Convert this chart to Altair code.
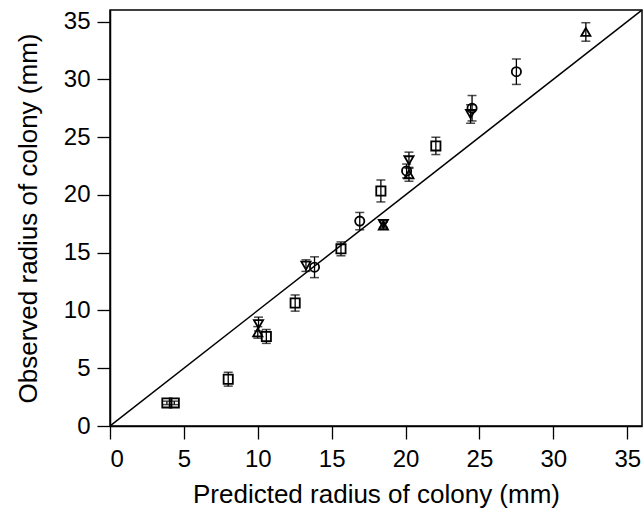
import altair as alt
import pandas as pd

# Predicted (x), observed (y), error half-width, marker shape
circle_x = [27.5, 24.5, 20.07, 16.9, 13.84]
circle_y = [30.66, 27.5, 22.07, 17.73, 13.74]
circle_e = [1.1, 1.1, 0.6, 0.75, 0.9]

square_x = [22.05, 18.33, 15.63, 12.53, 10.58, 8.0, 3.85, 4.35]
square_y = [24.24, 20.34, 15.33, 10.64, 7.75, 4.05, 2.0, 2.0]
square_e = [0.75, 0.95, 0.6, 0.7, 0.6, 0.6, 0.15, 0.15]

tri_up_x = [32.2, 20.23, 18.5, 10.0]
tri_up_y = [34.1, 21.78, 17.35, 8.1]
tri_up_e = [0.8, 0.6, 0.3, 0.5]

tri_down_x = [24.4, 20.23, 18.5, 13.26, 10.05]
tri_down_y = [27.0, 23.0, 17.5, 13.88, 8.82]
tri_down_e = [0.8, 0.7, 0.3, 0.5, 0.6]

x_ticks = [0, 5, 10, 15, 20, 25, 30, 35]
y_ticks = [0, 5, 10, 15, 20, 25, 30, 35]
line_x = [0, 36]
line_y = [0, 36]

rows = []
for xs, ys, es, shp in [
    (circle_x, circle_y, circle_e, "circle"),
    (square_x, square_y, square_e, "square"),
    (tri_up_x, tri_up_y, tri_up_e, "triangle-up"),
    (tri_down_x, tri_down_y, tri_down_e, "triangle-down"),
]:
    for xv, yv, ev in zip(xs, ys, es):
        rows.append({"x": xv, "y": yv, "lo": yv - ev, "hi": yv + ev, "shape": shp})
df = pd.DataFrame(rows)
line_df = pd.DataFrame({"x": line_x, "y": line_y})

xscale = alt.Scale(domain=[0, 36], nice=False, zero=False)
yscale = alt.Scale(domain=[0, 36], nice=False, zero=False)

xaxis = alt.Axis(values=x_ticks, title="Predicted radius of colony (mm)", grid=False,
                 tickSize=13, labelPadding=8, titlePadding=10)
yaxis = alt.Axis(values=y_ticks, title="Observed radius of colony (mm)", grid=False,
                 tickSize=13, labelPadding=7, titlePadding=22)

line = alt.Chart(line_df).mark_line(color="black", strokeWidth=1.5, clip=True).encode(
    x=alt.X("x:Q", scale=xscale, axis=xaxis),
    y=alt.Y("y:Q", scale=yscale, axis=yaxis),
)

bars = alt.Chart(df).mark_rule(color="black", strokeWidth=1.3).encode(
    x=alt.X("x:Q", scale=xscale), y=alt.Y("lo:Q", scale=yscale), y2="hi:Q"
)
cap_lo = alt.Chart(df).mark_tick(color="black", orient="horizontal", size=9, thickness=1.5).encode(
    x=alt.X("x:Q", scale=xscale), y=alt.Y("lo:Q", scale=yscale)
)
cap_hi = alt.Chart(df).mark_tick(color="black", orient="horizontal", size=9, thickness=1.5).encode(
    x=alt.X("x:Q", scale=xscale), y=alt.Y("hi:Q", scale=yscale)
)
pts = alt.Chart(df).mark_point(filled=False, color="black", strokeWidth=1.8, size=85, opacity=1).encode(
    x=alt.X("x:Q", scale=xscale),
    y=alt.Y("y:Q", scale=yscale),
    shape=alt.Shape("shape:N", scale=alt.Scale(
        domain=["circle", "square", "triangle-up", "triangle-down"],
        range=["circle", "square", "triangle-up", "triangle-down"]), legend=None),
)

chart = alt.layer(line, bars, cap_lo, cap_hi, pts).properties(
    width=532, height=416,
    autosize=alt.AutoSizeParams(type="none"),
    padding={"left": 110, "top": 10, "right": 2, "bottom": 90},
    background="white",
).configure_view(stroke="black", strokeWidth=1.5).configure_axis(
    domainColor="black", domainWidth=1.5, tickColor="black", tickWidth=1.3,
    labelFont="Liberation Sans", titleFont="Liberation Sans",
    labelFontSize=24, titleFontSize=26, labelColor="black", titleColor="black",
    titleFontWeight="normal",
)

chart.save("out.html", embed_options={"renderer": "svg", "actions": False})
